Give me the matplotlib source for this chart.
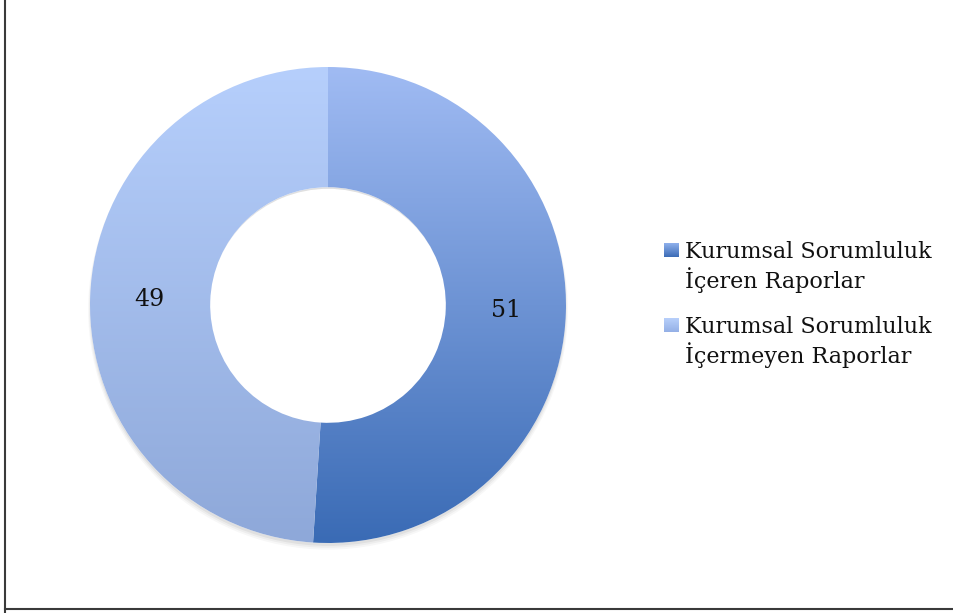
import numpy as np
import matplotlib
matplotlib.use("Agg")
import matplotlib.pyplot as plt
from matplotlib.colors import LinearSegmentedColormap
from matplotlib.lines import Line2D

categories = ["Kurumsal Sorumluluk\nİçeren Raporlar", "Kurumsal Sorumluluk\nİçermeyen Raporlar"]
values = [51, 49]
labels = ["51", "49"]

grad_top = ["#a0bbf3", "#b6cffc"]
grad_bot = ["#3a6bb5", "#8ea8d9"]
legend_top = ["#8fb0ec", "#b8d0fb"]
legend_bot = ["#3c6cb6", "#94b0e6"]

plt.rcParams['font.family'] = ['DejaVu Serif']

W, H = 954, 613
fig = plt.figure(figsize=(W / 100, H / 100), dpi=100)
cx, cy, R = 328, 305, 238
ax = fig.add_axes([(cx - R) / W, (H - cy - R) / H, 2 * R / W, 2 * R / H])
ax.set_xlim(-1, 1)
ax.set_ylim(-1, 1)
ax.set_aspect('equal')
ax.axis('off')

# soft shadow
for i, a in enumerate([0.05, 0.04, 0.03]):
    ax.pie([1], radius=1.0 + 0.004 * i, center=(0, -0.012 - 0.004 * i),
           wedgeprops=dict(width=0.5, facecolor='#000000', alpha=a, linewidth=0),
           startangle=90)

wedges, texts = ax.pie(values, startangle=90, counterclock=False, radius=1.0,
                       wedgeprops=dict(width=0.505, linewidth=0),
                       labels=labels, labeldistance=0.75,
                       textprops=dict(fontsize=17, color='#111111', ha='center', va='center'))
for t in texts:
    t.set_zorder(10)

for w, ct, cb in zip(wedges, grad_top, grad_bot):
    w.set_facecolor('white')
    cmap = LinearSegmentedColormap.from_list('g', [cb, ct])
    grad = np.linspace(0, 1, 256).reshape(-1, 1)
    im = ax.imshow(grad, extent=(-1, 1, -1, 1), origin='lower', cmap=cmap,
                   aspect='auto', zorder=2, interpolation='bilinear')
    im.set_clip_path(w)
ax.set_xlim(-1, 1)
ax.set_ylim(-1, 1)

# legend drawn manually: marker aligned with first text line
lax = fig.add_axes([0, 0, 1, 1])
lax.axis('off')
entry_y = [258, 333]
for cat, y0, ct, cb in zip(categories, entry_y, legend_top, legend_bot):
    cmap = LinearSegmentedColormap.from_list('lg', [ct, cb])
    grad = np.linspace(0, 1, 64).reshape(-1, 1)
    lax.imshow(grad, extent=(664, 679, y0 - 1, y0 - 15), cmap=cmap, aspect='auto',
               interpolation='bilinear', origin='upper')
    for k, line in enumerate(cat.split("\n")):
        lax.text(685, y0 + 30 * k, line, fontsize=16, ha='left', va='baseline',
                 color='#111111')
lax.set_xlim(0, W)
lax.set_ylim(H, 0)

# border (left and bottom edges visible)
fig.add_artist(Line2D([5 / W, 5 / W], [0, 1], transform=fig.transFigure, color='#3a3a3a', lw=1.5))
fig.add_artist(Line2D([5 / W, 1], [1 - 609 / H, 1 - 609 / H], transform=fig.transFigure, color='#3a3a3a', lw=1.5))

fig.savefig('out.png', dpi=100, facecolor='white')
